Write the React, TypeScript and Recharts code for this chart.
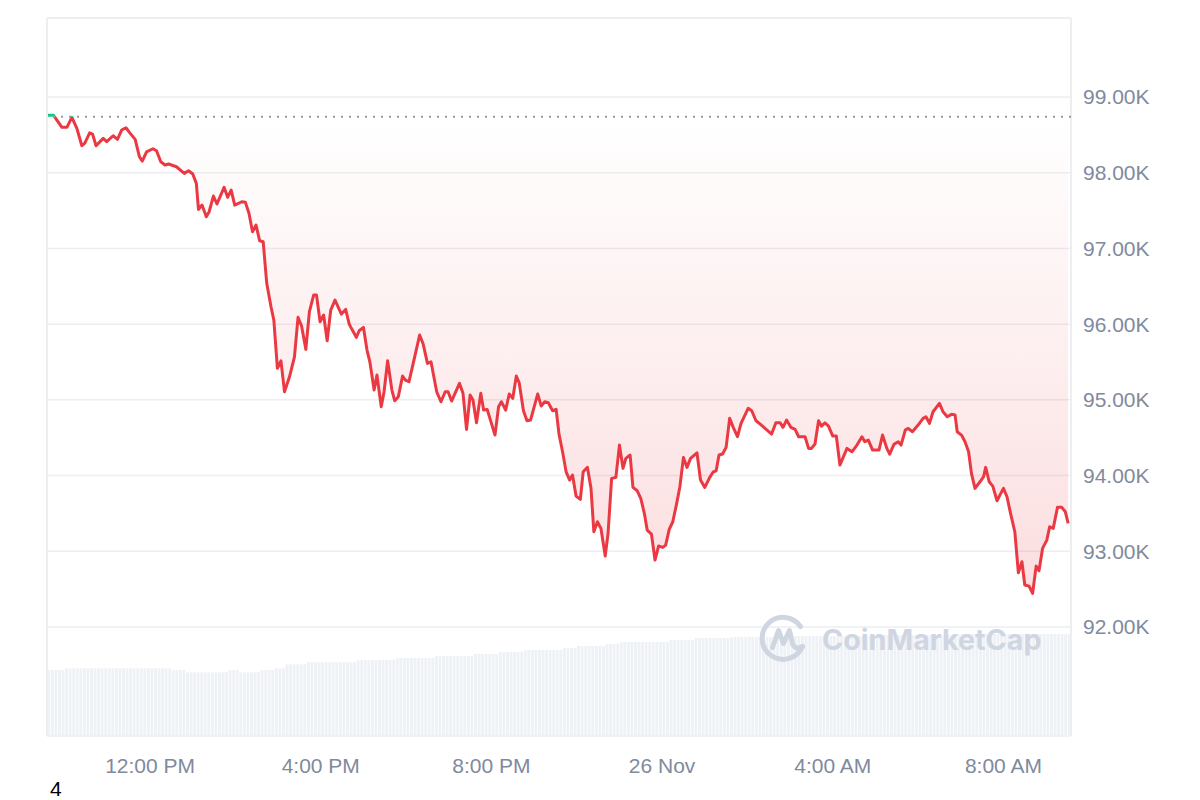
import React from 'react';
import {
	ComposedChart,
	Area,
	Bar,
	XAxis,
	YAxis,
	CartesianGrid,
	ReferenceLine,
} from 'recharts';

// Minutes since 9:35 AM (25 Nov) -> BTC price in USD
const PRICE_SERIES: [number, number][] = [
	[1, 98760], [9, 98760], [21, 98600], [28, 98600], [35, 98732], [42, 98587],
	[49, 98357], [53, 98388], [60, 98528], [64, 98511], [69, 98357], [79, 98454],
	[84, 98410], [93, 98489], [99, 98441], [105, 98564], [111, 98594], [117, 98520],
	[124, 98441], [130, 98211], [134, 98154], [140, 98277], [149, 98317], [154, 98291],
	[160, 98145], [166, 98102], [171, 98115], [182, 98079], [193, 97992], [199, 98026],
	[205, 97983], [210, 97860], [213, 97516], [218, 97573], [224, 97419], [228, 97485],
	[234, 97692], [239, 97587], [249, 97807], [254, 97675], [259, 97771], [264, 97573],
	[274, 97617], [279, 97609], [284, 97464], [289, 97221], [294, 97309], [299, 97102],
	[304, 97089], [309, 96539], [315, 96230], [319, 96054], [324, 95416], [329, 95516],
	[334, 95107], [341, 95305], [348, 95569], [353, 96090], [358, 95975], [364, 95667],
	[369, 96164], [375, 96384], [379, 96384], [384, 96032], [389, 96120], [394, 95781],
	[399, 96186], [405, 96318], [414, 96133], [420, 96195], [425, 96001], [428, 95945],
	[435, 95826], [439, 95913], [445, 95958], [450, 95658], [454, 95503], [460, 95130],
	[464, 95328], [470, 94909], [474, 95107], [479, 95516], [485, 95130], [489, 94988],
	[494, 95041], [500, 95314], [504, 95262], [509, 95239], [515, 95482], [524, 95856],
	[529, 95737], [535, 95482], [540, 95503], [548, 95107], [554, 94975], [560, 95107],
	[564, 95107], [569, 94984], [580, 95218], [585, 95086], [590, 94610], [595, 95063],
	[599, 94997], [604, 94697], [610, 95086], [614, 94865], [619, 94874], [630, 94535],
	[635, 94909], [639, 94975], [645, 94865], [650, 95077], [655, 95020], [660, 95314],
	[664, 95226], [670, 94856], [675, 94724], [680, 94733], [690, 95077], [695, 94918],
	[700, 94975], [705, 94962], [711, 94856], [716, 94874], [720, 94548], [725, 94314],
	[730, 94050], [735, 93941], [739, 94007], [744, 93729], [750, 93685], [754, 94050],
	[760, 94108], [765, 93831], [769, 93258], [774, 93390], [779, 93302], [785, 92937],
	[789, 93237], [794, 93963], [800, 93976], [805, 94403], [810, 94095], [814, 94227],
	[820, 94271], [824, 93844], [830, 93799], [835, 93699], [840, 93501], [844, 93280],
	[850, 93227], [855, 92884], [860, 93069], [866, 93051], [870, 93082], [875, 93289],
	[880, 93390], [885, 93610], [890, 93852], [895, 94240], [900, 94108], [905, 94227],
	[914, 94301], [919, 93941], [925, 93844], [932, 93976], [937, 94050], [941, 94064],
	[945, 94271], [950, 94284], [955, 94373], [960, 94756], [965, 94637], [971, 94513],
	[976, 94690], [986, 94888], [991, 94856], [997, 94724], [1003, 94680], [1019, 94548],
	[1025, 94697], [1031, 94697], [1035, 94637], [1040, 94733], [1046, 94637], [1052, 94610],
	[1057, 94513], [1066, 94513], [1071, 94359], [1075, 94359], [1080, 94416], [1085, 94724],
	[1089, 94654], [1094, 94697], [1099, 94654], [1105, 94522], [1110, 94522], [1115, 94139],
	[1125, 94359], [1132, 94314], [1139, 94403], [1146, 94513], [1150, 94447], [1155, 94469],
	[1161, 94337], [1170, 94337], [1175, 94535], [1181, 94359], [1185, 94284], [1191, 94412],
	[1197, 94447], [1201, 94403], [1207, 94601], [1211, 94623], [1217, 94579], [1225, 94667],
	[1232, 94756], [1236, 94777], [1241, 94690], [1246, 94843], [1255, 94954], [1260, 94843],
	[1266, 94777], [1272, 94809], [1277, 94799], [1280, 94579], [1286, 94535], [1291, 94447],
	[1296, 94314], [1300, 94029], [1305, 93831], [1312, 93918], [1317, 93984], [1320, 94108],
	[1325, 93918], [1330, 93861], [1336, 93667], [1340, 93742], [1345, 93831], [1350, 93720],
	[1355, 93500], [1361, 93258], [1366, 92716], [1371, 92861], [1375, 92554], [1381, 92540],
	[1386, 92444], [1391, 92804], [1395, 92742], [1400, 93038], [1406, 93148], [1410, 93324],
	[1415, 93302], [1421, 93580], [1427, 93580], [1432, 93522], [1436, 93368],
];

// 24h volume (billions USD), as steps: [start minute, level]
const VOLUME_STEPS: [number, number][] = [
	[0, 64.3], [25, 66.0], [176, 64.3], [197, 62.1], [253, 64.3], [271, 62.1],
	[302, 64.3], [322, 66.0], [337, 69.9], [363, 71.9], [437, 74.1], [492, 76.1],
	[543, 78.0], [598, 80.0], [633, 81.9], [668, 83.9], [723, 85.8], [744, 87.8],
	[783, 89.7], [803, 91.7], [877, 93.6], [912, 95.6], [961, 96.5], [1045, 97.5],
	[1171, 98.5], [1284, 99.5],
];

const REF_PRICE = 98740;
const PRICE_TICKS = [92000, 93000, 94000, 95000, 96000, 97000, 98000, 99000];
const PRICE_DOMAIN: [number, number] = [90560, 100044];
const X_TICKS = [145, 385, 625, 865, 1105, 1345];
const X_LABELS = ['12:00 PM', '4:00 PM', '8:00 PM', '26 Nov', '4:00 AM', '8:00 AM'];

const RED = '#ea3943';
const GREEN = '#16c784';
const GRID = '#eceef1';
const LABEL = '#808a9d';
const FONT = '"Liberation Sans", Arial, Helvetica, sans-serif';

const priceData = PRICE_SERIES.map(([t, price]) => ({ t, price }));

// one bar every 5 minutes, level taken from the step list
const volumeData = Array.from({ length: 288 }, (_, i) => {
	const t = i * 5 + 2.5;
	let vol = VOLUME_STEPS[0][1];
	for (const [start, level] of VOLUME_STEPS) {
		if (start <= t) vol = level;
	}
	return { t, vol };
});

const priceMax = Math.max(...PRICE_SERIES.map((p) => p[1]));
const priceMin = Math.min(...PRICE_SERIES.map((p) => p[1]));
const splitOffset = (priceMax - REF_PRICE) / (priceMax - priceMin);

// the band size gets squeezed by the price timestamps, so draw a fixed-width bar round its centre
function VolumeBar(props: any) {
	const { x, y, width, height } = props;
	if (height == null || height <= 0) return null;
	const cx = x + width / 2;
	return <rect x={cx - 1.4} y={y} width={2.8} height={height} fill="#eef1f5" />;
}

export default function App() {
	return (
		<div style={{ position: 'absolute', left: 0, top: 0, width: 1200, height: 800, background: '#fff' }}>
			<ComposedChart
				width={1200}
				height={800}
				data={volumeData}
				margin={{ top: 18, right: 0, bottom: 0, left: 47 }}
			>
				<defs>
					<linearGradient id="strokeSplit" x1="0" y1="0" x2="0" y2="1">
						<stop offset={splitOffset} stopColor={GREEN} />
						<stop offset={splitOffset} stopColor={RED} />
					</linearGradient>
					<linearGradient id="fillRed" x1="0" y1="0" x2="0" y2="1">
						<stop offset="0%" stopColor={RED} stopOpacity={0} />
						<stop offset="100%" stopColor={RED} stopOpacity={0.28} />
					</linearGradient>
				</defs>
				<CartesianGrid yAxisId="price" vertical={false} stroke={GRID} strokeWidth={1.5} />
				<XAxis
					dataKey="t"
					type="number"
					domain={[0, 1440]}
					ticks={X_TICKS}
					interval={0}
					tickFormatter={(v) => X_LABELS[X_TICKS.indexOf(v)] ?? ''}
					axisLine={false}
					tickLine={false}
					tickSize={0}
					tickMargin={22}
					height={64}
					tick={{ fill: LABEL, fontSize: 21, fontFamily: FONT }}
					allowDataOverflow
				/>
				<YAxis
					yAxisId="price"
					orientation="right"
					domain={PRICE_DOMAIN}
					ticks={PRICE_TICKS}
					interval={0}
					allowDataOverflow
					width={129}
					axisLine={false}
					tickLine={false}
					tickSize={0}
					tickMargin={12}
					tickFormatter={(v) => `${(v / 1000).toFixed(2)}K`}
					tick={{ fill: LABEL, fontSize: 21, fontFamily: FONT }}
				/>
				<YAxis yAxisId="vol" hide domain={[0, 700]} allowDataOverflow />
				<Bar
					yAxisId="vol"
					dataKey="vol"
					fill="#eef1f5"
					shape={<VolumeBar />}
					isAnimationActive={false}
				/>
				<ReferenceLine yAxisId="price" y={PRICE_DOMAIN[1]} stroke={GRID} strokeWidth={2} />
				<ReferenceLine yAxisId="price" x={0} stroke={GRID} strokeWidth={2} />
				<ReferenceLine yAxisId="price" x={1440} stroke={GRID} strokeWidth={2} />
				<Area
					yAxisId="price"
					data={priceData}
					dataKey="price"
					type="linear"
					baseValue={REF_PRICE}
					stroke="none"
					fill="url(#fillRed)"
					dot={false}
					activeDot={false}
					isAnimationActive={false}
				/>
				<ReferenceLine
					yAxisId="price"
					y={REF_PRICE}
					stroke="#9a9a9a"
					strokeWidth={2}
					strokeDasharray="2 6"
				/>
				<Area
					yAxisId="price"
					data={priceData}
					dataKey="price"
					type="linear"
					baseValue={REF_PRICE}
					stroke="url(#strokeSplit)"
					strokeWidth={3}
					strokeLinejoin="round"
					fill="none"
					dot={false}
					activeDot={false}
					isAnimationActive={false}
				/>
			</ComposedChart>
			<svg
				width={1200}
				height={800}
				style={{ position: 'absolute', left: 0, top: 0, pointerEvents: 'none' }}
			>
				<g transform="translate(783.5 638.5)" fill="none" stroke="#cfd6e2" strokeWidth={5} strokeLinecap="round" strokeLinejoin="round">
					<path d="M 19 8 A 21 21 0 1 1 17 -12" />
					<path d="M -11 9 L -5 -8 L 0 5 L 6 -8 L 9 5 Q 12 12 19 8" />
				</g>
				<text x={822} y={650} fill="#cfd6e2" fontSize={28.7} fontWeight={700} fontFamily="Inter, 'Noto Sans', sans-serif">
					CoinMarketCap
				</text>
				<text x={50} y={796} fill="#000" fontSize={21} fontFamily={FONT}>
					4
				</text>
			</svg>
		</div>
	);
}
